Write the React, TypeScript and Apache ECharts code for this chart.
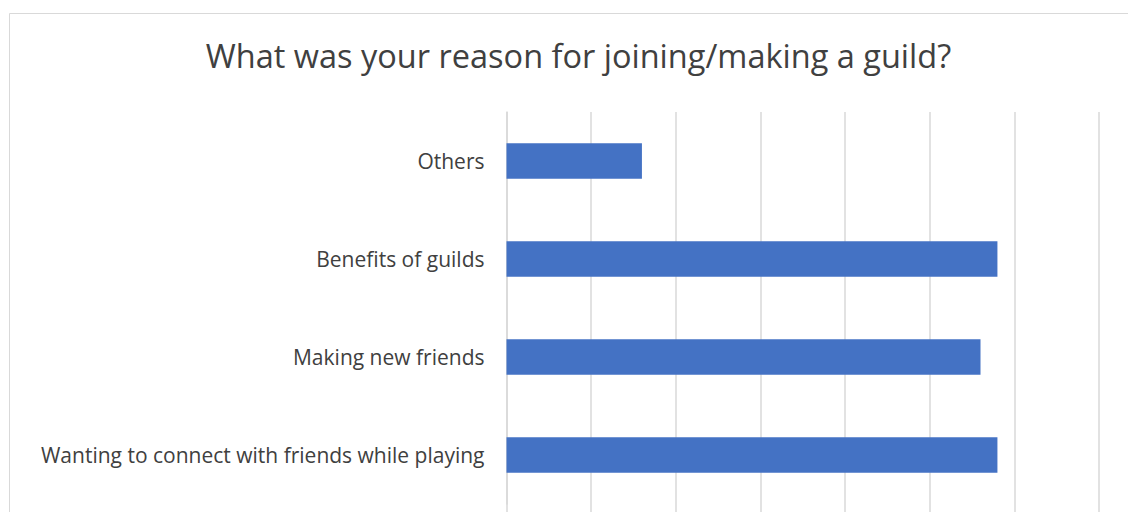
import React, { useEffect, useRef } from "react";
import * as echarts from "echarts";

const titleText = "What was your reason for joining/making a guild?";
// bottom to top (ECharts category axis order)
const categories = [
  "Wanting to connect with friends while playing",
  "Making new friends",
  "Benefits of guilds",
  "Others",
];
const counts = [29, 28, 29, 8];
const axisMin = 0;
const axisMax = 35;
const axisStep = 5;

const FONT = "Open Sans";
const TEXT = "#404040";
const GRID = "#d9d9d9";
const BAR = "#4472C4";

export default function App() {
  const ref = useRef<HTMLDivElement>(null);
  useEffect(() => {
    if (!ref.current) return;
    const chart = echarts.init(ref.current, null, { renderer: "svg" });
    chart.setOption({
      animation: false,
      backgroundColor: "#ffffff",
      title: {
        text: titleText,
        left: 573.5,
        top: 34,
        textAlign: "center",
        textStyle: {
          fontFamily: FONT,
          fontSize: 32.5,
          fontWeight: "normal",
          color: TEXT,
        },
      },
      graphic: [
        {
          type: "rect",
          shape: { x: 9.5, y: 13.5, width: 1128, height: 640 },
          style: { fill: "none", stroke: GRID, lineWidth: 1 },
          silent: true,
          z: -1,
        },
      ],
      grid: {
        left: 506.5,
        top: 112,
        width: 592.5,
        height: 392,
        containLabel: false,
      },
      xAxis: {
        type: "value",
        min: axisMin,
        max: axisMax,
        interval: axisStep,
        axisLine: { show: false },
        axisTick: { show: true, length: 10, lineStyle: { color: GRID, width: 1.5 } },
        splitLine: { show: true, lineStyle: { color: GRID, width: 1.5 } },
        axisLabel: { show: false },
      },
      yAxis: {
        type: "category",
        data: categories,
        axisLine: { show: true, lineStyle: { color: GRID, width: 1.5 } },
        axisTick: { show: false },
        axisLabel: { fontFamily: FONT, fontSize: 21, color: TEXT, margin: 22 },
      },
      series: [
        {
          type: "bar",
          data: counts,
          barCategoryGap: "64%",
          itemStyle: { color: BAR },
        },
      ],
    });
    return () => chart.dispose();
  }, []);
  return (
    <div
      style={{
        position: "fixed",
        left: 0,
        top: 0,
        width: 1128,
        height: 512,
        overflow: "hidden",
        background: "#fff",
      }}
    >
      <div ref={ref} style={{ width: 1300, height: 680 }} />
    </div>
  );
}
